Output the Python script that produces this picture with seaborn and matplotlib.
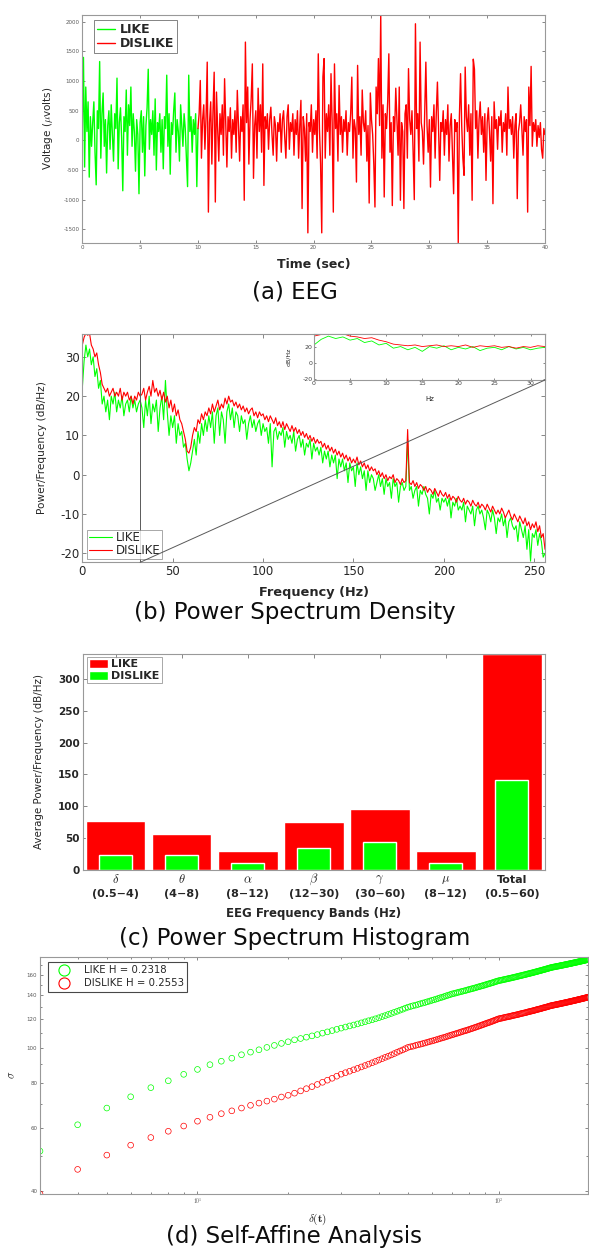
import numpy as np
import matplotlib
matplotlib.use("Agg")
import matplotlib.pyplot as plt
import seaborn as sns
from matplotlib.patches import Patch, ConnectionPatch
from matplotlib.lines import Line2D
from matplotlib.transforms import blended_transform_factory
from matplotlib.ticker import FixedLocator, FixedFormatter, NullFormatter, LogLocator

# ---------------- (a) EEG (microvolts), sampled every 0.1 s ----------------
EEG_FS = 10
eeg_like_start = 0.0
eeg_like = [
    200, 1400, -450, 900, 150, 650, -620, 400, -100, 300,
    650, -200, -750, 500, 200, 1330, -300, 450, 800, -100,
    350, -550, 250, 500, -150, 600, 100, -350, 450, 200,
    1050, -480, 300, 550, 50, -850, 400, 150, 850, -250,
    600, 250, 900, -100, 450, 150, -520, 350, 100, -900,
    300, 500, -200, 400, -600, 250, 550, 1200, -150, 350,
    100, 500, -250, 700, -500, 300, 150, 450, -200, 350,
    -480, 400, 200, 1100, -100, 450, -570, 300, 100, 500,
    800, -200, 350, 150, -350, 600, 250, -100, 450, 200,
    -300, -780, 1100, 150, 400, -200, 350, 100, 450, -780,
    200]
eeg_dislike_start = 10.0
eeg_dislike = [
    200, 450, 1010, -300, 350, 600, -150, 400, 1320, -1210,
    300, 650, -400, 500, 1150, -1040, 815, 200, -350, 450,
    100, 600, -250, 1040, 300, -450, 400, 150, 550, -300,
    350, 100, 500, -200, 843, 250, -350, 400, 150, 600,
    -1010, 1658, 300, 900, -400, 350, 700, 1290, -640, 250,
    500, -300, 880, 150, 600, -200, 1290, -760, 400, 200,
    450, -150, 350, 560, 100, -250, 400, 250, -350, 300,
    150, 450, -200, 350, 500, 50, -300, 400, 600, -150,
    300, 150, 450, -250, 350, 100, 500, -300, 250, 675,
    -1150, 400, 200, -350, 450, -1560, 300, 150, 600, -200,
    350, 100, 500, -300, 1460, 200, -400, -1560, 1070, 1380,
    -300, 450, 150, 600, -250, 1125, 300, -1210, 1290, 200,
    450, -350, 927, 100, 400, -200, 350, 150, 500, -250,
    300, 150, 450, 1067, -300, 350, 200, -703, 1265, 100,
    400, -250, 850, 300, 150, 500, -350, 250, -1057, 800,
    350, 100, -400, -1124, 900, 450, 1380, 250, 2120, -300,
    600, -955, 450, 200, 650, 1460, -200, 300, -1100, 400,
    150, 880, 350, -250, 900, -1010, 300, 150, -1150, 450,
    600, -300, 1210, 350, 100, 500, -200, -1000, 1967, 200,
    450, -350, 1658, 300, 150, -400, 500, 1320, 250, -200,
    350, -788, 400, 150, 600, -300, 450, 983, 200, -675,
    300, 150, 500, -250, 350, 100, 600, -350, 250, 450,
    -200, -900, 350, 150, 300, -1726, 400, 1125, 250, -300,
    -590, 1236, 400, 150, 600, -250, 450, -1010, 1370, 1200,
    200, 500, -300, 350, 650, 100, 400, -200, 450, -675,
    300, 550, 150, -350, 400, -1068, 650, 200, 350, -150,
    400, 250, 500, -200, 300, 150, 450, -250, 900, 200,
    350, 100, 400, -300, 250, 450, -983, 150, 300, 600,
    200, -250, 400, 150, 350, -1210, 900, 250, 1248, -100,
    300, 150, 350, -100, 250, 50, 300, -150, -300, 200,
    100]

# ---------------- (b) PSD (dB/Hz), 1 Hz bins from 0 Hz ----------------
PSD_DF = 1.0
psd_like = [
    22, 29, 33, 30, 32, 28, 30, 25, 27, 22,
    24, 18, 20, 16, 19, 14, 20, 18, 21, 16,
    19, 17, 20, 15, 18, 19, 16, 20, 17, 19,
    16, 18, 19, 17, 12, 19, 15, 20, 13, 18,
    16, 19, 11, 17, 20, 14, 24, 16, 10, 15,
    12, 15, 8, 13, 10, 11, 7, 8, 4, 1,
    3, 6, 9, 5, 11, 8, 13, 10, 14, 11,
    15, 12, 16, 8, 15, 17, 10, 16, 14, 8,
    16, 18, 14, 17, 12, 16, 15, 11, 15, 13,
    14, 9, 13, 15, 12, 14, 11, 13, 14, 10,
    13, 11, 12, 8, 13, 2, 11, 12, 9, 11,
    10, 12, 7, 11, 9, 10, 8, 11, 6, 9,
    10, 7, 9, 5, 8, 7, 9, 4, 8, 6,
    7, 5, 7, 3, 6, 4, 6, 2, 5, 3,
    5, -1, 4, 2, 4, 1, 3, -2, 3, 1,
    2, -3, 3, 0, 2, -1, 1, -4, 1, -2,
    0, -1, -4, -2, 0, -3, -1, -5, -1, -3,
    -2, -6, -1, -3, -2, -7, -3, -2, -4, -3,
    9, -4, -3, -6, -4, -3, -8, -4, -5, -3,
    -5, -6, -10, -5, -6, -4, -7, -6, -9, -6,
    -7, -6, -8, -6, -11, -7, -8, -6, -9, -8,
    -9, -7, -12, -8, -9, -10, -8, -13, -9, -8,
    -10, -9, -11, -14, -9, -10, -12, -9, -11, -15,
    -11, -12, -10, -13, -11, -16, -12, -11, -13, -14,
    -13, -17, -12, -14, -16, -13, -19, -14, -22, -15,
    -16, -14, -18, -15, -17, -21, -20]
psd_dislike = [
    33, 35, 36, 35.5, 36, 33, 32, 30, 31, 28,
    26, 23, 22, 21, 22, 20, 21, 22, 20, 21,
    20, 22, 19, 21, 20, 21, 19, 20, 18, 20,
    19, 21, 20, 20.5, 22, 19, 21, 22.5, 20, 24,
    21, 22, 20, 21.5, 19, 21, 18.5, 20, 17, 19,
    16, 18, 15, 16.5, 14, 13, 11, 9, 6, 5.5,
    7, 10, 12, 11, 14, 13, 15.5, 14, 16, 15,
    17, 15.5, 18, 16, 17.5, 19, 16.5, 18, 17, 19.5,
    18, 20, 18.5, 19, 17.5, 18.5, 17, 18, 16.5, 17.5,
    16, 17, 15.5, 16.5, 17, 15, 16, 14.5, 16, 15,
    15.5, 14, 15, 13.5, 15, 14, 13, 14.5, 12.5, 13.5,
    12, 13.5, 11.5, 13, 12, 11, 12.5, 11, 12, 10.5,
    11.5, 10, 11, 9.5, 10.5, 9, 10, 8.5, 9.5, 8,
    9, 8, 8.5, 7, 8, 6.5, 7.5, 6, 7, 5.5,
    6.5, 5, 6, 4.5, 5.5, 4, 5, 3.5, 4.5, 3,
    4, 3, 4.5, 2.5, 3.5, 2, 3, 1.5, 2.5, 1,
    2, 1, 1.5, 0, 1, -0.5, 0.5, -1, 0, -1.5,
    -0.5, -1, 0, -2, -1, -1.5, -2.5, -1, -2, -1.5,
    11.5, -2, -2.5, -1.5, -3, -2, -3.5, -2.5, -3, -4,
    -3, -4.5, -3.5, -4, -5, -3.5, -4.5, -5.5, -4, -5,
    -5.5, -4.5, -6, -5, -6.5, -5.5, -6, -7, -5.5, -6.5,
    -7, -6, -7.5, -6.5, -7, -8, -6.5, -7.5, -8, -7,
    -8.5, -7.5, -8, -9, -7.5, -8.5, -9.5, -8, -9, -10,
    -9, -10, -8.5, -9.5, -11, -10, -9, -10.5, -11.5, -10,
    -11, -12, -10.5, -11.5, -12.5, -11, -13, -12, -14, -12.5,
    -13.5, -12, -14.5, -13, -16, -15, -19]
psd_zoom_hi = 32          # upper edge of the zoomed band shown in the inset (Hz)

# ---------------- (c) band averages ----------------
band_symbols = ["$\\delta$", "$\\theta$", "$\\alpha$", "$\\beta$", "$\\gamma$", "$\\mu$", "Total"]
band_ranges = ["(0.5−4)", "(4−8)", "(8−12)", "(12−30)", "(30−60)", "(8−12)", "(0.5−60)"]
band_like = [77.4, 56.5, 29.8, 75.8, 96.2, 29.8, 339]
band_dislike = [23.5, 23.5, 11.5, 35.0, 44.0, 11.5, 140.8]

# ---------------- (d) self-affine analysis, delta = 3 .. 200 ----------------
delta_start = 3
sigma_like = [
    51.6, 61.1, 68.0, 73.1, 77.5, 81.0, 84.4, 87.1, 89.8, 91.8,
    93.6, 95.7, 97.3, 98.8, 100.3, 101.6, 102.9, 104.0, 105.3,
    106.2, 107.1, 108.0, 108.9, 109.9, 110.8, 111.7, 112.6, 113.5,
    114.3, 115.1, 115.8, 116.6, 117.4, 118.2, 119.0, 119.7, 120.5, 121.3,
    122.2, 123.0, 123.9, 124.7, 125.6, 126.4, 127.3, 128.1, 129.0, 129.8,
    130.4, 131.0, 131.5, 132.1, 132.7, 133.3, 133.8, 134.4, 135.0, 135.6,
    136.1, 136.7, 137.3, 137.9, 138.4, 139.0, 139.6, 140.2, 140.7, 141.3,
    141.7, 142.1, 142.6, 143.0, 143.4, 143.8, 144.2, 144.6, 145.1, 145.5,
    145.9, 146.3, 146.7, 147.1, 147.6, 148.0, 148.4, 148.8, 149.2, 149.6,
    150.1, 150.5, 150.9, 151.3, 151.7, 152.1, 152.6, 153.0, 153.4, 153.8,
    154.1, 154.3, 154.6, 154.9, 155.2, 155.4, 155.7, 156.0, 156.3, 156.5,
    156.8, 157.1, 157.4, 157.6, 157.9, 158.2, 158.5, 158.7, 159.0, 159.3,
    159.6, 159.8, 160.1, 160.4, 160.7, 160.9, 161.2, 161.5, 161.7, 162.0,
    162.3, 162.6, 162.8, 163.1, 163.4, 163.7, 163.9, 164.2, 164.5, 164.8,
    165.0, 165.3, 165.6, 165.9, 166.1, 166.4, 166.7, 167.0, 167.2, 167.5,
    167.7, 167.9, 168.0, 168.2, 168.4, 168.6, 168.8, 168.9, 169.1, 169.3,
    169.5, 169.7, 169.8, 170.0, 170.2, 170.4, 170.6, 170.7, 170.9, 171.1,
    171.3, 171.5, 171.6, 171.8, 172.0, 172.2, 172.4, 172.5, 172.7, 172.9,
    173.1, 173.3, 173.4, 173.6, 173.8, 174.0, 174.2, 174.3, 174.5, 174.7,
    174.9, 175.1, 175.2, 175.4, 175.6, 175.8, 176.0, 176.1, 176.3, 176.5]
sigma_dislike = [
    39.2, 45.9, 50.3, 53.6, 56.3, 58.6, 60.6, 62.5, 64.1, 65.6,
    66.8, 68.0, 69.2, 70.2, 71.1, 72.0, 73.0, 73.8, 74.8,
    75.9, 77.0, 78.0, 79.1, 80.2, 81.3, 82.3, 83.4, 84.5,
    85.3, 86.1, 86.9, 87.7, 88.5, 89.3, 90.1, 90.9, 91.7, 92.5,
    93.3, 94.1, 94.8, 95.6, 96.4, 97.2, 98.0, 98.7, 99.5, 100.3,
    100.7, 101.1, 101.6, 102.0, 102.4, 102.8, 103.2, 103.7, 104.1, 104.5,
    104.9, 105.3, 105.8, 106.2, 106.6, 107.0, 107.4, 107.9, 108.3, 108.7,
    109.1, 109.5, 109.9, 110.3, 110.7, 111.1, 111.5, 111.8, 112.2, 112.6,
    113.0, 113.4, 113.8, 114.2, 114.6, 115.0, 115.4, 115.8, 116.2, 116.6,
    117.0, 117.4, 117.7, 118.1, 118.5, 118.9, 119.3, 119.7, 120.1, 120.5,
    120.7, 120.9, 121.1, 121.4, 121.6, 121.8, 122.0, 122.2, 122.4, 122.6,
    122.9, 123.1, 123.3, 123.5, 123.7, 123.9, 124.1, 124.4, 124.6, 124.8,
    125.0, 125.2, 125.4, 125.6, 125.9, 126.1, 126.3, 126.5, 126.7, 126.9,
    127.1, 127.3, 127.6, 127.8, 128.0, 128.2, 128.4, 128.6, 128.8, 129.1,
    129.3, 129.5, 129.7, 129.9, 130.1, 130.3, 130.6, 130.8, 131.0, 131.2,
    131.3, 131.5, 131.6, 131.8, 131.9, 132.1, 132.2, 132.4, 132.5, 132.7,
    132.8, 133.0, 133.1, 133.3, 133.4, 133.6, 133.7, 133.9, 134.0, 134.2,
    134.3, 134.5, 134.6, 134.8, 134.9, 135.1, 135.2, 135.4, 135.5, 135.7,
    135.8, 136.0, 136.1, 136.3, 136.4, 136.6, 136.7, 136.9, 137.0, 137.2,
    137.3, 137.5, 137.6, 137.8, 137.9, 138.1, 138.2, 138.4, 138.5, 138.6]
H_like, H_dislike = 0.2318, 0.2553

# ---------------- style ----------------
sns.set_theme(style="ticks")
plt.rcParams['font.family'] = ['DejaVu Sans']
plt.rcParams['mathtext.fontset'] = 'cm'
plt.rcParams['axes.unicode_minus'] = False

GREEN = (0.0, 1.0, 0.0)
RED = (1.0, 0.0, 0.0)
W, H = 589, 1254
fig = plt.figure(figsize=(W / 100, H / 100), dpi=100)


def box(l, t, r, b):
    return [l / W, 1 - b / H, (r - l) / W, (b - t) / H]


def style_axes(ax, size, color, length, bold=False):
    for s in ax.spines.values():
        s.set_visible(True)
        s.set_color('0.6')
        s.set_linewidth(0.8)
    ax.tick_params(which='both', direction='in', top=True, right=True,
                   labelsize=size, labelcolor=color, color='0.45', width=0.6, pad=2)
    ax.tick_params(which='major', length=length)
    ax.tick_params(which='minor', length=length * 0.5)
    if bold:
        for lab in ax.get_xticklabels() + ax.get_yticklabels():
            lab.set_fontweight('bold')


def legend_box(leg, lw=0.6, ec='0.3'):
    fr = leg.get_frame()
    fr.set_edgecolor(ec)
    fr.set_linewidth(lw)
    fr.set_boxstyle('square', pad=0)


def line_handles(lw):
    return [Line2D([], [], color=GREEN, lw=lw), Line2D([], [], color=RED, lw=lw)]


# ---------------- (a) ----------------
ax = fig.add_axes(box(82.3, 14.7, 545, 242.7))
t_like = eeg_like_start + np.arange(len(eeg_like)) / EEG_FS
t_dis = eeg_dislike_start + np.arange(len(eeg_dislike)) / EEG_FS
sns.lineplot(x=t_like, y=eeg_like, color=GREEN, lw=1.0, ax=ax,
             sort=False, estimator=None)
sns.lineplot(x=t_dis, y=eeg_dislike, color=RED, lw=1.0, ax=ax,
             sort=False, estimator=None)
allv = np.concatenate([eeg_like, eeg_dislike])
ax.set_xlim(0, 40)
ax.set_ylim(allv.min(), allv.max())
ax.set_xticks(np.arange(0, 41, 5))
ax.set_yticks(np.arange(-1500, 2001, 500))
style_axes(ax, 4, '0.35', 2)
ax.set_xlabel('Time (sec)', fontsize=9, fontweight='bold')
ax.set_ylabel('Voltage ($\\mu$volts)', fontsize=7.5)
ax.xaxis.set_label_coords(0.5, -0.067)
ax.yaxis.set_label_coords(-0.059, 0.5)
leg = ax.legend(handles=line_handles(1.0), labels=['LIKE', 'DISLIKE'],
                loc='upper left', bbox_to_anchor=(0.026, 0.977), borderaxespad=0,
                prop={'weight': 'bold', 'size': 9}, handlelength=1.4, labelspacing=0.1,
                borderpad=0.25, handletextpad=0.4, fancybox=False)
legend_box(leg)

# ---------------- (b) ----------------
ax = fig.add_axes(box(82.3, 333.7, 545, 562.3))
f = np.arange(len(psd_like)) * PSD_DF
sns.lineplot(x=f, y=psd_like, color=GREEN, lw=0.8, ax=ax, sort=False, estimator=None)
sns.lineplot(x=f, y=psd_dislike, color=RED, lw=0.8, ax=ax, sort=False, estimator=None)
ylo, yhi = -22.3, 35.9
ax.set_xlim(0, f.max())
ax.set_ylim(ylo, yhi)
ax.set_xticks(np.arange(0, 251, 50))
ax.set_yticks(np.arange(-20, 31, 10))
style_axes(ax, 8.5, '0.15', 3)
ax.axvline(psd_zoom_hi, color='0.35', lw=0.7)
ax.set_xlabel('Frequency (Hz)', fontsize=9.3, fontweight='bold')
ax.set_ylabel('Power/Frequency (dB/Hz)', fontsize=7.6)
ax.xaxis.set_label_coords(0.5, -0.104)
ax.yaxis.set_label_coords(-0.076, 0.5)
leg = ax.legend(handles=line_handles(0.8), labels=['LIKE', 'DISLIKE'],
                loc='lower left', bbox_to_anchor=(0.010, 0.014), borderaxespad=0,
                prop={'size': 8.5}, handlelength=2.0, labelspacing=0.0,
                borderpad=0.15, handletextpad=0.3, fancybox=False)
legend_box(leg, ec='0.5')

axi = fig.add_axes(box(314, 333.7, 545, 380))
sns.lineplot(x=f, y=psd_like, color=GREEN, lw=0.6, ax=axi, sort=False, estimator=None)
sns.lineplot(x=f, y=psd_dislike, color=RED, lw=0.6, ax=axi, sort=False, estimator=None)
axi.set_xlim(0, psd_zoom_hi)
axi.set_ylim(-21.6, 36)
axi.set_xticks(np.arange(0, 31, 5))
axi.set_yticks([-20, 0, 20])
style_axes(axi, 4.5, '0.25', 1.5)
axi.tick_params(pad=1)
axi.set_xlabel('Hz', fontsize=5)
axi.set_ylabel('dB/Hz', fontsize=4.5)
axi.xaxis.set_label_coords(0.5, -0.34)
axi.yaxis.set_label_coords(-0.1, 0.5)
axi.set_facecolor('white')
con = ConnectionPatch(xyA=(psd_zoom_hi, ylo), coordsA=ax.transData,
                      xyB=(psd_zoom_hi, -21.6), coordsB=axi.transData,
                      color='0.35', lw=0.7)
fig.add_artist(con)

# ---------------- (c) ----------------
ax = fig.add_axes(box(82.7, 654, 545, 870))
sns.barplot(x=band_symbols, y=band_like, color=RED, width=0.9, saturation=1,
            errorbar=None, ax=ax)
sns.barplot(x=band_symbols, y=band_dislike, color=GREEN, width=0.5, saturation=1,
            errorbar=None, ax=ax)
ax.set_xlim(-0.5, len(band_symbols) - 0.5)
ax.set_ylim(0, 339)
ax.set_yticks(np.arange(0, 301, 50))
ax.set_xticks(range(len(band_symbols)))
ax.set_xticklabels(band_ranges)
style_axes(ax, 7.5, '0.15', 3, bold=True)
ax.tick_params(axis='x', pad=14, labelsize=8)
trans = blended_transform_factory(ax.transData, ax.transAxes)
for i, sym in enumerate(band_symbols):
    if sym.startswith('$'):
        ax.text(i, -0.045, sym, transform=trans, ha='center', va='center',
                fontsize=9, color='0.15')
    else:
        ax.text(i, -0.045, sym, transform=trans, ha='center', va='center',
                fontsize=8, fontweight='bold', color='0.15')
ax.set_xlabel('EEG Frequency Bands (Hz)', fontsize=8.5, fontweight='bold')
ax.set_ylabel('Average Power/Frequency (dB/Hz)', fontsize=7.4)
ax.xaxis.set_label_coords(0.5, -0.171)
ax.yaxis.set_label_coords(-0.084, 0.5)
leg = ax.legend(handles=[Patch(facecolor=RED), Patch(facecolor=GREEN)],
                labels=['LIKE', 'DISLIKE'], loc='upper left',
                bbox_to_anchor=(0.0093, 0.986), borderaxespad=0,
                prop={'weight': 'bold', 'size': 8}, handlelength=1.7, handleheight=0.8,
                labelspacing=0.15, borderpad=0.2, handletextpad=0.3, fancybox=False)
legend_box(leg, ec='0.5')

# ---------------- (d) ----------------
ax = fig.add_axes(box(40, 957.3, 588, 1194))
delta = delta_start + np.arange(len(sigma_like))
sns.scatterplot(x=delta, y=sigma_like, marker='o', color='none', edgecolor=GREEN,
                s=17, linewidth=0.5, ax=ax)
sns.scatterplot(x=delta, y=sigma_dislike, marker='o', color='none', edgecolor=RED,
                s=17, linewidth=0.5, ax=ax)
ax.set_xscale('log')
ax.set_yscale('log')
ax.set_xlim(3, 198)
ax.set_ylim(39.2, 178.7)
ax.yaxis.set_major_locator(FixedLocator([40, 60, 80, 100, 120, 140, 160]))
ax.yaxis.set_major_formatter(FixedFormatter(['40', '60', '80', '100', '120', '140', '160']))
ax.yaxis.set_minor_locator(FixedLocator([50, 70, 90, 110, 130, 150, 170]))
ax.yaxis.set_minor_formatter(NullFormatter())
ax.xaxis.set_major_locator(FixedLocator([10, 100]))
ax.xaxis.set_major_formatter(FixedFormatter(['$10^{1}$', '$10^{2}$']))
ax.xaxis.set_minor_locator(LogLocator(base=10, subs=np.arange(2, 10)))
ax.xaxis.set_minor_formatter(NullFormatter())
style_axes(ax, 4, '0.35', 2.5)
ax.set_xlabel('$\\delta(\\mathbf{t})$', fontsize=8)
ax.set_ylabel('$\\sigma$', fontsize=8)
ax.xaxis.set_label_coords(0.507, -0.076)
ax.yaxis.set_label_coords(-0.042, 0.503)
h1 = Line2D([], [], marker='o', ls='', markersize=8, markerfacecolor='none',
            markeredgecolor=GREEN, markeredgewidth=0.8)
h2 = Line2D([], [], marker='o', ls='', markersize=8, markerfacecolor='none',
            markeredgecolor=RED, markeredgewidth=0.8)
leg = ax.legend(handles=[h1, h2],
                labels=[f'LIKE H = {H_like:.4f}', f'DISLIKE H = {H_dislike:.4f}'],
                loc='upper left', bbox_to_anchor=(0.014, 0.981), borderaxespad=0,
                prop={'size': 7.3}, handlelength=2.6, labelspacing=0.3,
                borderpad=0.35, handletextpad=0.6, fancybox=False)
legend_box(leg, lw=0.8, ec='0.1')

# ---------------- captions ----------------
for y, txt in [(292, '(a) EEG'), (613, '(b) Power Spectrum Density'),
               (938, '(c) Power Spectrum Histogram'), (1237, '(d) Self-Affine Analysis')]:
    fig.text(0.5, 1 - y / H, txt, ha='center', va='center', fontsize=16.5, color='0.05')

fig.savefig('out.png', dpi=100)
